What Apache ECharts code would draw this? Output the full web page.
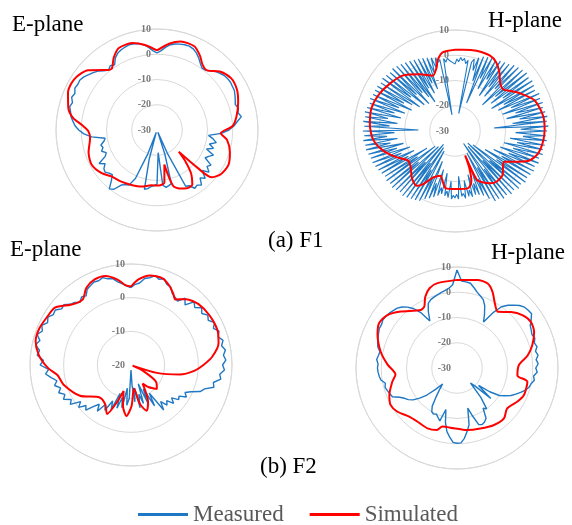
<!DOCTYPE html>
<html><head><meta charset="utf-8">
<script src="https://cdn.jsdelivr.net/npm/echarts@6/dist/echarts.min.js"></script>
<style>html,body{margin:0;padding:0;background:#fff}#c{width:572px;height:525px}</style>
</head><body><div id="c"></div>
<script>
// ---------- data (dB vs angle in degrees, clockwise from top) ----------
// F1 E-plane simulated
const f1ESimAngles = [0,8,15,24,30,35,40,47,55,63,71,80,87,93,98,107,116,125,131,133,135,138,142,147,153,159,164,168,172,178,186,195,205,214,224,232,242,252,263,269,274,278,284,293,302,311,318,321,324,329,335,344,352,360];
const f1ESimValues = [1.5,4.5,6.3,6.3,4,1.5,0.8,4,5.8,5.5,4,2,0,-4.7,-2,0.2,1.5,0.7,-1.5,-8,-17.8,-13,-8,-4.3,-4.1,-5.2,-7,-16,-9,-8,-8,-6.8,-6,-5.2,-4.3,-2.2,-0.7,-1.5,-3.3,-2.8,-0.1,3.5,6.2,8.3,8.4,6.1,2,0.6,0.3,3.3,5.8,5.8,4,1.5];
// F1 E-plane measured (every 3 degrees)
const f1EMeasStep = 3;
const f1EMeasValues = [
 0.5,1.5,3,4.2,4.8,5.2,5.5,5.6,5.2,4.3,
 3,1.5,0.3,0.5,1.5,2.8,3.5,4.3,4.6,4.7,
 4.5,4.4,3.8,3.2,2.6,3.4,2.8,3.8,2,0.5,
 -1.5,-4.5,-9.5,-7.5,-6,-8.5,-6.5,-9,-5.5,-7,
 -8,-4.5,-5.5,-3.5,-6,-3,-4.5,-2,-3,-2.5,
 -4.5,-5,-20,-29,-20,-8,-7.5,-7,-8,-21,
 -8.5,-8,-7.5,-6.5,-6,-18,-29,-20,-9,-5.5,
 -5,-4,-1,0,-3,-5,-4.5,-3.5,-4,-5.5,
 -3.5,-7,-8,-6.5,-7.5,-7,-8.5,-9.2,-4,-1,
 1,2.5,3.5,4.5,5,5.8,5.2,6.2,5.6,6.5,
 6.2,6.4,5.8,4.8,4,3,1.5,0.5,1.5,0.8,
 3,4.2,4.8,5.2,5.5,5.3,5,4.2,3,1.5];

// F1 H-plane simulated
const f1HSimAngles = [0,6,15,25,31,37,43,49,55,60,69,80,89,97,105,112,118,122,126,132,140,146,152,156,157.5,159,162,167,179,189,193,198,205,211,215,222,232,238,246,255,264,274,285,295,306,317,328,338,344,346,351,360];
const f1HSimValues = [2.2,2.4,2.9,2.9,1.7,-0.8,-3.8,-4.8,-2.5,-0.2,3.8,5.4,5.5,5.1,4.1,1.5,-4,-7,-6.5,-4.5,-4,-5,-7,-9,-19.5,-14,-9,-6.8,-7,-7,-9,-11.4,-9.7,-5.5,-3.5,-4.6,-7.6,-8,-4.5,-0.4,2.6,3.8,4.3,3.5,1.9,0.1,-3.5,-6.4,-3.7,-1.3,1.5,2.2];
// F1 H-plane measured (every 1.5 degrees)
const f1HMeasStep = 1.5;
const f1HMeasValues = [
 -3.5,-1.5,-2.5,-0.8,-2,-1,-3,-1.5,-23,-2,-0.5,-5,0.5,-9,1.5,-18,2,-7,2.5,-11,
 2,-6,3,-13,3.5,-8,4,-12,5,-7,5.5,-15,6,-9,6.5,-12,6,-7,6.5,-13,
 6,-8,5.5,-11,6.5,-6,6,-10,6.5,-5,6,-9,6.5,-4,7,-7,6.5,-14.5,7,-4,
 6.5,-6,6,-3,6.5,-8,6,-5,5.5,-10,6,-6,5,-11,5.5,-7,4.5,-13,5,-9,
 4.5,-16,4,-10,4.5,-21,3.5,-12,4,-23,3,-14,3.5,-22,2.5,-11,3,-24,2,-13,
 2,-20,0,-9,-2,-13,-3,-8,-3.5,-12,-3,-6,-3.5,-10,-3,-5,-4,-12,-3,-5,
 -3.5,-4.5,-3,-10,-3.5,-6,-4,-13,-4.5,-7,-3.5,-14,-2.5,-8,-1.5,-17,-0.5,-10,1,-21,
 1.5,-12,2,-22,2.5,-14,3,-23,2.5,-13,3,-21,3.5,-11,3,-20,3.5,-12,3,-17,
 3.5,-9,4,-12,4.5,-7,5,-11,5,-6,5.5,-9,6,-4,6,-7,6.5,-3,6,-6,
 6.5,-15.5,6,-4,6.5,-7,6,-3,6.5,-8,6,-5,5.5,-9,6,-6,5.5,-11,5.5,-7,
 5.5,-10,5,-13,5.5,-8,5,-14,4.5,-9,5,-15,4.5,-10,4,-13,3.5,-16,3,-10,
 2.5,-13,2,-9,1.5,-12,1,-6,0.5,-4,0,-2,-1,-23.5,-1,-2.5,-1,-2,-1.5,-3];

// F2 E-plane simulated
const f2ESimAngles = [0,5,12,20,26,31,34,40,48,58,68,76,84,90,95,101,107,111,116,124,133,141,148,155,161,167,173,179,185,191,196,201,206,213,224,239,254,262,268,276,284,292,300,307,315,320,324,330,337,344,351,356,360];
const f2ESimValues = [3.3,5.5,7.2,7.4,6.1,4.5,3.5,5.5,7,7.6,7.7,6.8,4.3,1.5,-1,-5.2,-12,-19.5,-16,-11,-9.5,-11.5,-13.5,-8,-5.6,-8,-13,-8,-4.8,-7.5,-12,-8,-3.8,-6,-6.6,-2.3,0.9,2,4.7,7.5,9.2,9.3,8.7,8.3,5.3,4.3,4.2,6.5,7.6,7.5,5.7,3.8,3.3];
// F2 E-plane measured (every 3 degrees)
const f2EMeasStep = 3;
const f2EMeasValues = [
 3,4,4.5,6,6.5,7.5,6.8,7.4,6.2,6,
 4.5,4,3.5,5.5,4,6.5,5.5,7,6,7.2,
 6.5,7.8,6.8,8,7.2,8.3,7.5,8.4,7.6,8.2,
 7.2,7.8,6.5,7,5,5.5,3,2,-0.5,-2,
 -1,-3,-2.5,-4.5,-3,-5,-4,-6,-3.5,-10,
 -6,-12,-7,-14,-8,-11,-7,-13,-9,-14,
 -18.5,-10,-8,-13,-7,-10,-6.5,-11,-5.5,-8,
 -4.5,-6,-3,-5,-3.5,-1,-2,0,-1.5,1.5,
 0.5,2.5,1.5,3,2,3.5,2.5,4,5.5,4.5,
 7,6,8,7.5,9,8,9.3,8.2,9,7.8,
 8.5,7.5,7.8,6.5,6.8,5.5,5,4,5,4.5,
 6,6.5,7,6.8,7.3,6.5,6.2,5,4.2,3.5];

// F2 H-plane simulated
const f2HSimAngles = [0,13,20,25,31,36,44,51,58,65,73,80,87,97,101,112,119,129,137,147,159,171,183,194,198,206,217,225,234,241,248,258,264,273,282,293,300,307,315,328,332,336,341,347,360];
const f2HSimValues = [4.9,5.8,5.6,3.3,-0.7,-2.5,0.8,3.3,4.5,3.7,1.2,-1.6,-5.4,-5.9,-1.6,-1.4,-2.6,-4.5,-2.7,-3.1,-4.3,-5.1,-6.1,-6.1,-4.2,-3.4,-3.6,-2.9,-0.7,0.1,-1.1,-3.8,-5.5,-2.4,0.9,4.2,5.6,4.7,1.6,-2.9,-2.4,0.9,3.4,4.5,4.9];
// F2 H-plane measured (every 3 degrees)
const f2HMeasStep = 3;
const f2HMeasValues = [
 8.8,4.5,4.3,4,2.5,1,0,-1,-3,-6,
 -9,-4,0,2,3.5,5,6,6.3,6.5,5,
 3.5,3,2.5,3,2.2,2.8,1.8,2.5,1.5,2.2,
 1.2,1.8,0.5,1,0,-0.5,-1.5,-3,-4.5,-6,
 -8,-10,-14,-19,-12,-20,-22,-15,-10,-11,
 -7,-6,-5.5,-6,-10,-13.5,-7,-4.5,-2,-0.3,
 -0.2,-0.5,-2.5,-4.5,-8,-13,-8,-9,-10,-9.5,
 -10,-12,-16,-19,-21.5,-18,-14,-11,-8.5,-7,
 -6,-4.5,-2,-1.5,-1,-0.5,-1,0.5,1,1.3,
 1.5,1.3,2,1.5,1.2,2.5,3,3.5,4,4.5,
 4.5,5,4.8,4.5,4,3.5,2.5,1,-1,-4,
 -8.5,-5,-2,-1,-0.5,0,0.5,1,1.7,3];

const radiusMin = [-30, -30, -20, -30];
const radiusMax = [10, 10, 10, 10];
const legendNames = ['Measured', 'Simulated'];
const planeTitles = ['E-plane', 'H-plane', 'E-plane', 'H-plane'];
const caseLabels = ['(a) F1', '(b) F2'];

// ---------- helpers ----------
function pairsFromAngles(angles, values) {
  return values.map((v, i) => [v, angles[i]]);
}
function pairsFromStep(step, values) {
  const out = values.map((v, i) => [v, i * step]);
  out.push([values[0], 360]);
  return out;
}

const polars = [
  { center: [157, 130], radius: 101 },
  { center: [455, 131], radius: 101 },
  { center: [131, 365], radius: 101 },
  { center: [457, 368], radius: 101 }
];
const measData = [
  pairsFromStep(f1EMeasStep, f1EMeasValues),
  pairsFromStep(f1HMeasStep, f1HMeasValues),
  pairsFromStep(f2EMeasStep, f2EMeasValues),
  pairsFromStep(f2HMeasStep, f2HMeasValues)
];
const simData = [
  pairsFromAngles(f1ESimAngles, f1ESimValues),
  pairsFromAngles(f1HSimAngles, f1HSimValues),
  pairsFromAngles(f2ESimAngles, f2ESimValues),
  pairsFromAngles(f2HSimAngles, f2HSimValues)
];
const measWidth = [1.4, 1.1, 1.4, 1.4];

const BLUE = '#1f78c3', RED = '#ff0000', GRID = '#d9d9d9';
const FONT = 'Liberation Serif';
const TITLE_FONT = '23px ' + FONT;

const option = {
  backgroundColor: '#fff',
  animation: false,
  polar: polars.map(p => ({ center: p.center, radius: p.radius })),
  angleAxis: polars.map((p, i) => ({
    polarIndex: i, type: 'value', min: 0, max: 360, startAngle: 90, clockwise: true,
    axisLine: { show: true, lineStyle: { color: GRID, width: 1 } },
    axisTick: { show: false }, axisLabel: { show: false }, splitLine: { show: false }
  })),
  radiusAxis: polars.map((p, i) => ({
    polarIndex: i, type: 'value', min: radiusMin[i], max: radiusMax[i], interval: 10,
    axisLine: { show: false }, axisTick: { show: false },
    axisLabel: { show: true, margin: 6, fontSize: 10, fontFamily: FONT, fontWeight: 'bold', color: '#7a7a7a' },
    splitLine: { show: true, lineStyle: { color: GRID, width: 1 } },
    z: 1
  })),
  legend: {
    data: legendNames, left: 133, top: 498, itemWidth: 50, itemHeight: 14, itemGap: 26,
    icon: 'path://M0,5.5H50V8.5H0Z',
    textStyle: { fontFamily: FONT, fontSize: 23, color: '#595959' }
  },
  graphic: [
    { type: 'text', left: 12, top: 13, style: { text: planeTitles[0], font: TITLE_FONT, fill: '#000' } },
    { type: 'text', right: 10, top: 9, style: { text: planeTitles[1], font: TITLE_FONT, fill: '#000' } },
    { type: 'text', left: 10, top: 238, style: { text: planeTitles[2], font: TITLE_FONT, fill: '#000' } },
    { type: 'text', right: 7, top: 241, style: { text: planeTitles[3], font: TITLE_FONT, fill: '#000' } },
    { type: 'text', left: 268, top: 229, style: { text: caseLabels[0], font: TITLE_FONT, fill: '#000' } },
    { type: 'text', left: 260, top: 455, style: { text: caseLabels[1], font: TITLE_FONT, fill: '#000' } }
  ],
  series: []
};
for (let i = 0; i < 4; i++) {
  option.series.push({
    name: legendNames[0], type: 'line', coordinateSystem: 'polar', polarIndex: i,
    data: measData[i], showSymbol: false, symbol: 'none',
    lineStyle: { color: BLUE, width: measWidth[i] }, itemStyle: { color: BLUE }, z: 3
  });
}
for (let i = 0; i < 4; i++) {
  option.series.push({
    name: legendNames[1], type: 'line', coordinateSystem: 'polar', polarIndex: i,
    data: simData[i], showSymbol: false, symbol: 'none', smooth: 0.25,
    lineStyle: { color: RED, width: 2 }, itemStyle: { color: RED }, z: 4
  });
}
const chart = echarts.init(document.getElementById('c'), null, { renderer: 'canvas' });
chart.setOption(option);
</script></body></html>
